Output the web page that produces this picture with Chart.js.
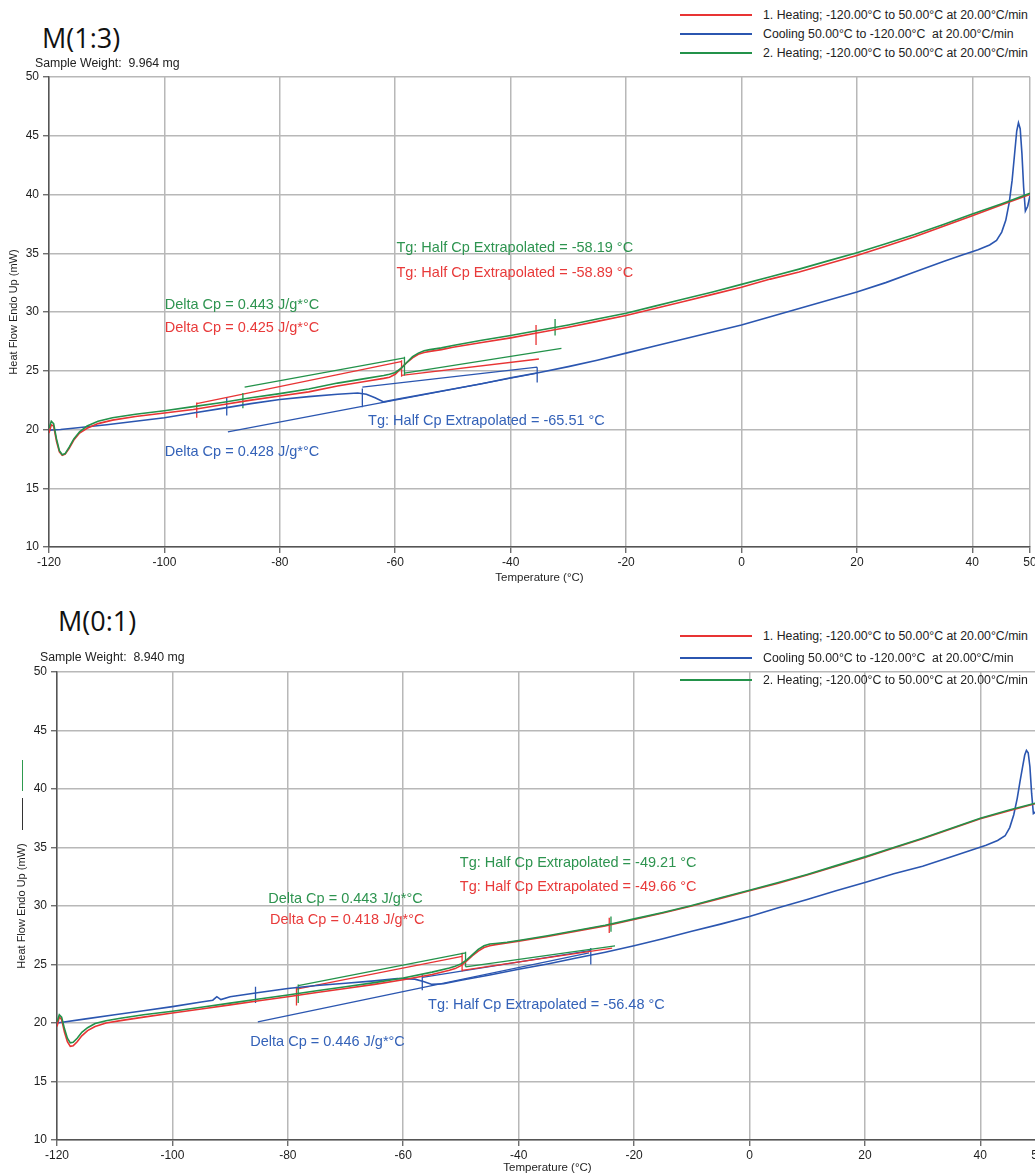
<!DOCTYPE html>
<html>
<head>
<meta charset="utf-8">
<script src="https://cdn.jsdelivr.net/npm/chart.js@4.4.1/dist/chart.umd.min.js"></script>
<style>
  html, body { margin: 0; padding: 0; background: #fff; overflow: hidden; }
  body { position: relative; width: 1035px; height: 1176px; font-family: "Liberation Sans", Arial, sans-serif; color: #222; }
  canvas { position: absolute; left: 0; }
  .name { position: absolute; font-family: "Open Sans", "Noto Sans", sans-serif; font-size: 27px; line-height: 27px; color: #111; }
  .weight { position: absolute; font-size: 12.3px; line-height: 14px; white-space: pre; }
  .key { position: absolute; left: 680px; width: 360px; height: 14px; font-size: 12.3px; line-height: 14px; white-space: pre; }
  .key span { position: absolute; left: 0; top: 6px; width: 72px; height: 1.5px; }
  .key b { position: absolute; left: 83px; top: 0; font-weight: normal; }
  .stub { position: absolute; left: 22px; width: 1px; }
</style>
</head>
<body>
<canvas id="m13" width="1035" height="530" style="top:60px"></canvas>
<canvas id="m01" width="1041" height="526" style="top:650px"></canvas>

<div class="name" style="left:42px; top:24px">M(1:3)</div>
<div class="weight" style="left:35px; top:56px">Sample Weight:  9.964 mg</div>
<div class="name" style="left:58px; top:607px">M(0:1)</div>
<div class="weight" style="left:40px; top:650px">Sample Weight:  8.940 mg</div>
<div class="stub" style="top:760px; height:31px; background:#2e9a4e"></div>
<div class="stub" style="top:798px; height:32px; background:#333"></div>

<script>
// axis ticks shared by both panels
const tempTicks = [-120, -100, -80, -60, -40, -20, 0, 20, 40, 50];
const flowTicks = [10, 15, 20, 25, 30, 35, 40, 45, 50];

const runLabels = [
  '1. Heating; -120.00°C to 50.00°C at 20.00°C/min',
  'Cooling 50.00°C to -120.00°C  at 20.00°C/min',
  '2. Heating; -120.00°C to 50.00°C at 20.00°C/min'
];
const runColors = ['#e83434', '#2b56b0', '#23924a'];
const noteColors = ['#e83a3a', '#3462b8', '#2e9450'];

// ---- M(1:3) ----
const m13HeatTemp = [-120, -119.6, -119.2, -118.7, -118.2, -117.7, -117.2, -116.5, -115.7, -114.7, -113.4, -111.5, -109, -105,
  -100, -95, -90, -85, -80, -75, -70, -65, -62, -61, -60, -59, -58, -57, -56, -55, -54, -52, -50, -45, -40, -35, -30, -25,
  -20, -15, -10, -5, 0, 5, 10, 15, 20, 25, 30, 35, 40, 45, 50];
const m13Heat1 = [19.7, 20.4, 20.3, 19.0, 18.1, 17.8, 17.9, 18.4, 19.1, 19.7, 20.1, 20.5, 20.8, 21.1,
  21.4, 21.7, 22.1, 22.5, 22.85, 23.2, 23.7, 24.1, 24.35, 24.45, 24.7, 25.2, 25.7, 26.1, 26.4, 26.55, 26.65, 26.8, 27.0, 27.4, 27.8, 28.25, 28.7, 29.2,
  29.7, 30.3, 30.9, 31.5, 32.1, 32.8, 33.4, 34.1, 34.8, 35.6, 36.4, 37.3, 38.2, 39.1, 40.0];
const m13Heat2 = [20.1, 20.7, 20.5, 19.2, 18.2, 17.85, 17.95, 18.5, 19.2, 19.8, 20.3, 20.7, 21.0, 21.3,
  21.6, 21.95, 22.3, 22.7, 23.05, 23.45, 23.95, 24.35, 24.6, 24.7, 24.85, 25.2, 25.7, 26.2, 26.5, 26.7, 26.8, 26.95, 27.15, 27.6, 28.0, 28.45, 28.9, 29.4,
  29.9, 30.5, 31.1, 31.7, 32.35, 33.0, 33.65, 34.35, 35.05, 35.8, 36.6, 37.45, 38.35, 39.2, 40.1];
const m13CoolTemp = [50, 49.6, 49.2, 48.9, 48.6, 48.3, 48.0, 47.7, 47.3, 46.9, 46.4, 45.8, 45.1, 44.2, 43, 41, 38, 35,
  30, 25, 20, 15, 10, 5, 0, -5, -10, -15, -20, -25, -30, -35, -40, -45, -50, -55, -60, -62, -63.5, -65, -66.5,
  -70, -75, -80, -85, -90, -95, -100, -105, -110, -115, -118, -120];
const m13Cool = [39.9, 39.0, 38.6, 40.6, 43.5, 45.6, 46.1, 45.4, 43.3, 41.2, 39.3, 37.8, 36.8, 36.1, 35.7, 35.3, 34.8, 34.3,
  33.4, 32.5, 31.7, 31.0, 30.3, 29.6, 28.9, 28.3, 27.7, 27.1, 26.5, 25.9, 25.35, 24.85, 24.4, 23.9, 23.45, 23.0, 22.55, 22.35, 22.7, 23.0, 23.1,
  23.0, 22.8, 22.55, 22.2, 21.8, 21.4, 21.0, 20.7, 20.4, 20.15, 20.0, 19.95];
// Tg construction: [T1, HF1, T2, HF2] per segment
const m13Heat1Marks = [[-94.4, 22.2, -58.8, 25.8], [-58.9, 24.6, -35.1, 26.0],
  [-94.4, 21.0, -94.4, 22.3], [-58.9, 24.5, -58.9, 25.9], [-35.6, 27.2, -35.6, 28.9]];
const m13CoolMarks = [[-65.7, 23.6, -35.4, 25.3], [-89.0, 19.8, -35.4, 24.8],
  [-89.2, 21.2, -89.2, 22.7], [-65.7, 21.9, -65.7, 23.5], [-35.4, 24.0, -35.4, 25.3]];
const m13Heat2Marks = [[-86.1, 23.6, -58.4, 26.1], [-58.4, 24.8, -31.2, 26.9],
  [-86.4, 21.8, -86.4, 23.1], [-58.4, 24.6, -58.4, 26.2], [-32.3, 28.0, -32.3, 29.4]];
const m13Tg = [-58.89, -65.51, -58.19];
const m13DeltaCp = [0.425, 0.428, 0.443];

// ---- M(0:1) ----
const m01HeatTemp = [-120, -119.6, -119.2, -118.7, -118.2, -117.7, -117.2, -116.5, -115.7, -114.7, -113.4, -111.5, -109, -105,
  -100, -95, -90, -85, -80, -75, -70, -65, -60, -55, -52, -51, -50, -49, -48, -47, -46, -45, -44, -42, -40, -35, -30, -25,
  -20, -15, -10, -5, 0, 5, 10, 15, 20, 25, 30, 35, 40, 45, 50];
const m01Heat1 = [19.7, 20.5, 20.3, 19.2, 18.4, 18.0, 18.05, 18.4, 18.9, 19.35, 19.7, 20.0, 20.2, 20.5,
  20.85, 21.2, 21.55, 21.9, 22.25, 22.6, 22.95, 23.3, 23.7, 24.15, 24.5, 24.65, 24.9, 25.3, 25.75, 26.15, 26.45, 26.6, 26.7, 26.85, 27.0, 27.4, 27.85, 28.3,
  28.85, 29.4, 30.0, 30.65, 31.3, 31.95, 32.65, 33.4, 34.15, 34.95, 35.75, 36.6, 37.45, 38.15, 38.8];
const m01Heat2 = [20.1, 20.7, 20.5, 19.5, 18.7, 18.3, 18.35, 18.7, 19.2, 19.6, 19.95, 20.2, 20.4, 20.7,
  21.0, 21.35, 21.7, 22.05, 22.4, 22.75, 23.1, 23.45, 23.85, 24.35, 24.7, 24.85, 25.05, 25.4, 25.85, 26.3, 26.6, 26.75, 26.8, 26.9, 27.05, 27.45, 27.9, 28.35,
  28.9, 29.45, 30.05, 30.7, 31.35, 32.0, 32.7, 33.45, 34.2, 35.0, 35.8, 36.65, 37.5, 38.2, 38.85];
const m01CoolTemp = [50, 49.5, 49.2, 48.9, 48.6, 48.3, 48.0, 47.7, 47.3, 46.9, 46.4, 45.8, 45.1, 44.3, 43, 41, 38, 35,
  30, 25, 20, 15, 10, 5, 0, -5, -10, -15, -20, -25, -30, -35, -40, -45, -50, -53, -55, -56.5, -58, -61,
  -65, -70, -75, -80, -85, -90, -91.6, -92.3, -93, -95, -100, -105, -110, -115, -120];
const m01Cool = [38.6, 38.0, 37.9, 39.6, 41.9, 43.1, 43.3, 42.9, 41.8, 40.7, 39.2, 37.8, 36.7, 36.0, 35.6, 35.2, 34.7, 34.2,
  33.4, 32.75, 32.0, 31.3, 30.55, 29.85, 29.1, 28.45, 27.85, 27.2, 26.6, 26.05, 25.55, 25.05, 24.6, 24.1, 23.65, 23.35, 23.3, 23.55, 23.75, 23.8,
  23.6, 23.4, 23.2, 22.95, 22.6, 22.25, 22.0, 22.25, 21.95, 21.8, 21.4, 21.05, 20.7, 20.35, 20.0];
const m01Heat1Marks = [[-78.5, 22.9, -49.8, 25.7], [-49.8, 24.5, -23.8, 26.4],
  [-78.5, 21.5, -78.5, 23.1], [-49.8, 24.4, -49.8, 26.0], [-24.3, 27.7, -24.3, 29.0]];
const m01CoolMarks = [[-56.7, 23.9, -27.4, 26.2], [-85.2, 20.1, -27.8, 26.0],
  [-85.6, 21.7, -85.6, 23.1], [-56.7, 22.8, -56.7, 24.1], [-27.5, 25.0, -27.5, 26.4]];
const m01Heat2Marks = [[-78.2, 23.2, -49.2, 26.0], [-49.2, 24.8, -23.3, 26.6],
  [-78.2, 21.7, -78.2, 23.3], [-49.2, 24.8, -49.2, 26.1], [-24.0, 27.8, -24.0, 29.1]];
const m01Tg = [-49.66, -56.48, -49.21];
const m01DeltaCp = [0.418, 0.446, 0.443];

Chart.defaults.font.family = '"Liberation Sans", Arial, sans-serif';
Chart.defaults.font.size = 12;
Chart.defaults.color = '#1e1e1e';

function curve(temps, flows, color) {
  return {
    data: temps.map((t, i) => ({ x: t, y: flows[i] })),
    borderColor: color, borderWidth: 1.6, pointRadius: 0, tension: 0, fill: false
  };
}

function marks(segs, color) {
  const pts = [];
  segs.forEach(([t1, h1, t2, h2]) => {
    pts.push({ x: t1, y: h1 }, { x: t2, y: h2 }, { x: t2, y: null });
  });
  return { data: pts, borderColor: color, borderWidth: 1.3, pointRadius: 0, spanGaps: false, fill: false };
}

// text notes placed in data units
const notesPlugin = {
  id: 'dscNotes',
  afterDatasetsDraw(chart, args, opts) {
    const { ctx, scales: { x, y } } = chart;
    ctx.save();
    ctx.font = '14.5px "Liberation Sans", Arial, sans-serif';
    ctx.textBaseline = 'middle';
    ctx.textAlign = 'left';
    opts.notes.forEach(n => {
      ctx.fillStyle = n.color;
      ctx.fillText(n.text, x.getPixelForValue(n.t), y.getPixelForValue(n.hf));
    });
    ctx.restore();
  }
};

function drawPanel(id, p) {
  const tgText = v => 'Tg: Half Cp Extrapolated = ' + v.toFixed(2) + ' °C';
  const cpText = v => 'Delta Cp = ' + v.toFixed(3) + ' J/g*°C';
  const notes = [];
  p.tgAt.forEach((a, i) => notes.push({ text: tgText(p.tg[i]), t: a[0], hf: a[1], color: noteColors[i] }));
  p.cpAt.forEach((a, i) => notes.push({ text: cpText(p.cp[i]), t: a[0], hf: a[1], color: noteColors[i] }));

  new Chart(document.getElementById(id), {
    type: 'line',
    data: {
      datasets: [
        curve(p.heatTemp, p.heat2, runColors[2]),
        curve(p.heatTemp, p.heat1, runColors[0]),
        curve(p.coolTemp, p.cool, runColors[1]),
        marks(p.heat2Marks, runColors[2]),
        marks(p.heat1Marks, runColors[0]),
        marks(p.coolMarks, runColors[1])
      ]
    },
    options: {
      responsive: false,
      animation: false,
      devicePixelRatio: 1,
      layout: { padding: { top: p.padTop, right: p.padRight, left: 0, bottom: 0 } },
      plugins: { legend: { display: false }, tooltip: { enabled: false }, dscNotes: { notes } },
      scales: {
        x: {
          type: 'linear', min: -120, max: 50,
          afterBuildTicks: s => { s.ticks = tempTicks.map(v => ({ value: v })); },
          afterFit: s => { s.height = p.xHeight; s.paddingLeft = 0; s.paddingRight = 0; },
          ticks: { autoSkip: false, maxRotation: 0, padding: 2 },
          grid: { color: '#b8b8b8', lineWidth: 1.5, tickLength: 6, tickColor: '#555', tickWidth: 1.2 },
          border: { color: '#555', width: 1.5 },
          title: { display: true, text: 'Temperature (°C)', font: { size: 11.5 }, padding: { top: 0, bottom: p.xTitlePad } }
        },
        y: {
          type: 'linear', min: 10, max: 50,
          afterBuildTicks: s => { s.ticks = flowTicks.map(v => ({ value: v })); },
          afterFit: s => { s.width = p.yWidth; s.paddingTop = 0; s.paddingBottom = 0; },
          ticks: { padding: 4 },
          grid: { color: '#b8b8b8', lineWidth: 1.5, tickLength: 6, tickColor: '#555', tickWidth: 1.2 },
          border: { color: '#555', width: 1.5 },
          title: { display: true, text: 'Heat Flow Endo Up (mW)', font: { size: 11 }, padding: { top: p.yTitlePad, bottom: 0 } }
        }
      }
    },
    plugins: [notesPlugin]
  });
}

drawPanel('m13', {
  heatTemp: m13HeatTemp, heat1: m13Heat1, heat2: m13Heat2,
  coolTemp: m13CoolTemp, cool: m13Cool,
  heat1Marks: m13Heat1Marks, coolMarks: m13CoolMarks, heat2Marks: m13Heat2Marks,
  tg: m13Tg, cp: m13DeltaCp,
  tgAt: [[-59.8, 33.3], [-64.7, 20.7], [-59.8, 35.45]],
  cpAt: [[-99.95, 28.6], [-99.95, 18.1], [-99.95, 30.6]],
  padTop: 17, padRight: 5, xHeight: 43, yWidth: 49, xTitlePad: 5, yTitlePad: 7
});

drawPanel('m01', {
  heatTemp: m01HeatTemp, heat1: m01Heat1, heat2: m01Heat2,
  coolTemp: m01CoolTemp, cool: m01Cool,
  heat1Marks: m01Heat1Marks, coolMarks: m01CoolMarks, heat2Marks: m01Heat2Marks,
  tg: m01Tg, cp: m01DeltaCp,
  tgAt: [[-50.2, 31.64], [-55.7, 21.54], [-50.2, 33.64]],
  cpAt: [[-83.1, 28.8], [-86.5, 18.4], [-83.4, 30.56]],
  padTop: 22, padRight: 3, xHeight: 36, yWidth: 57, xTitlePad: 1, yTitlePad: 15
});

// run legends, one per panel
[[15, 34, 53], [636, 658, 680]].forEach(rows => {
  rows.forEach((y, i) => {
    const row = document.createElement('div');
    row.className = 'key';
    row.style.top = (y - 7) + 'px';
    row.innerHTML = '<span style="background:' + runColors[i] + '"></span><b></b>';
    row.querySelector('b').textContent = runLabels[i];
    document.body.appendChild(row);
  });
});
</script>
</body>
</html>
